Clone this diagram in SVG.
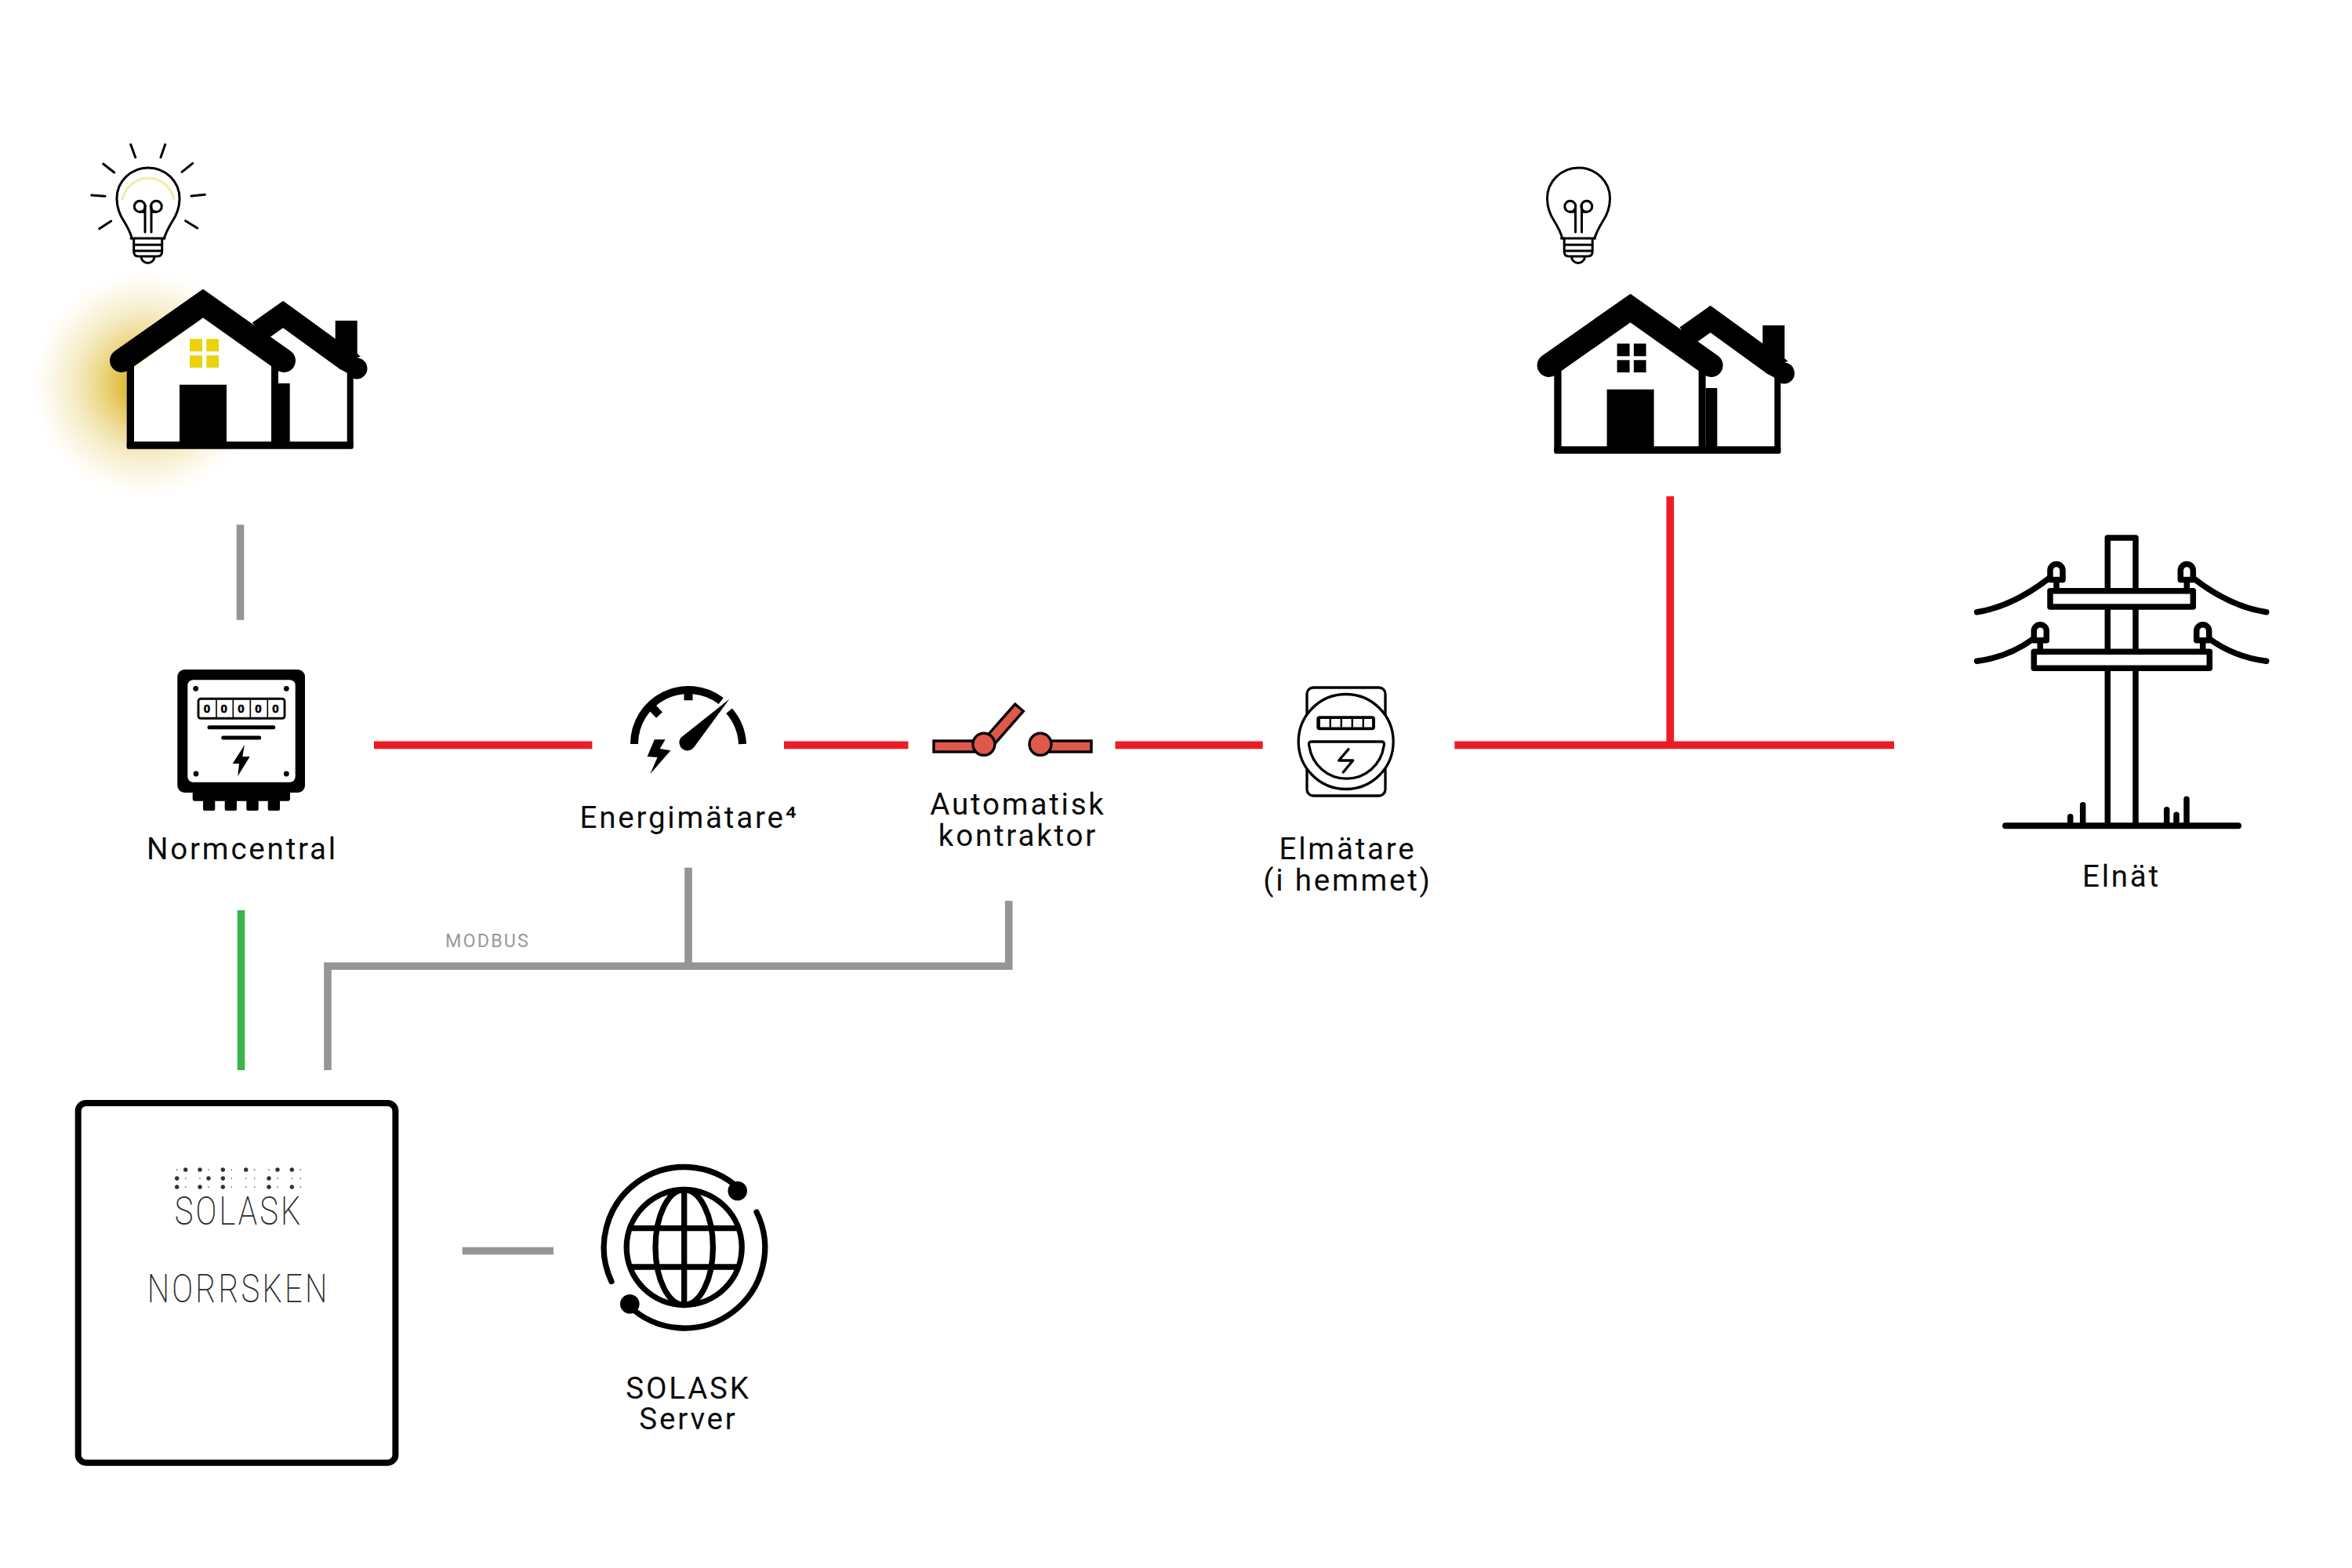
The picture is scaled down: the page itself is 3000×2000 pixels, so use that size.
<svg xmlns="http://www.w3.org/2000/svg" width="3000" height="2000" viewBox="0 0 3000 2000">
<style>
.lbl{font-family:"Roboto","Liberation Sans",sans-serif;font-size:38.5px;letter-spacing:2.8px;fill:#0b0b0b;text-anchor:middle}
.mod{font-family:"Roboto","Liberation Sans",sans-serif;font-size:23.4px;letter-spacing:2.1px;fill:#999;text-anchor:start}
.logo{font-family:"Roboto","Liberation Sans",sans-serif;font-weight:200;font-size:50px;fill:#2a2a2a}
.dig{font-family:"Liberation Sans",sans-serif;font-weight:700;font-size:15px;fill:#000;stroke:#000;stroke-width:.6;text-anchor:middle}
.red{fill:none;stroke:#ED1C24;stroke-width:9.7}
.gray{fill:none;stroke:#959595;stroke-width:9.6}
.k3{fill:none;stroke:#000;stroke-width:3;stroke-linecap:round;stroke-linejoin:round}
.k7{fill:none;stroke:#000;stroke-width:7.5;stroke-linecap:round;stroke-linejoin:round}
.wht{fill:#fff}
.blk{fill:#000}
.sw{fill:#E0584C;stroke:#000;stroke-width:3.4}
.sm{fill:#333}
</style>
<defs>
<radialGradient id="glowG">
<stop offset="0" stop-color="#DDB526" stop-opacity="0.95"/>
<stop offset="0.2" stop-color="#DDB526" stop-opacity="0.88"/>
<stop offset="0.55" stop-color="#E3C452" stop-opacity="0.44"/>
<stop offset="1" stop-color="#F0E0A0" stop-opacity="0"/>
</radialGradient>
<g id="house-shape">
<path class="wht" d="M346,430L360.7,419L442,476V564H350Z"/>
<path fill="none" stroke="#000" stroke-width="28" d="M330,423L361,401L441,459"/>
<circle class="blk" cx="455" cy="470" r="13.5"/>
<path class="blk" d="M430,440L441,459L460,455L455.7,451V409H427.7V442Z"/>
<path class="blk" d="M441,446L463,461L455,482L432,470Z"/>
<rect class="blk" x="442.7" y="470" width="8" height="100"/>
<path class="wht" d="M171,468L259.3,406L346,468V563.3H171Z"/>
<rect class="blk" x="161.7" y="563.3" width="289" height="9.4" rx="2"/>
<rect class="blk" x="161.7" y="455" width="9.3" height="115"/>
<rect class="blk" x="346" y="460" width="9" height="110"/>
<rect class="blk" x="355" y="489" width="14.7" height="80"/>
<rect class="blk" x="229" y="490.7" width="60" height="78"/>
<path fill="none" stroke="#000" stroke-width="30" stroke-linecap="round" stroke-miterlimit="6" d="M155,460L259,387L362,460"/>
</g>
<g id="bulb-shape">
<path class="k3" d="M168.3,304C166,296 163,290 158,282C152,273 149,265 149,253A40,39 0 0 1 229,253C229,265 226,273 220,282C215,290 212,296 209.3,304"/>
<path class="k3" d="M167,304H210M170.7,304V321Q170.7,327 177,327H200Q206.7,327 206.7,321V304M170.7,312.3H206.7M170.7,320H206.7M180,327A8.5,8.5 0 0 0 197,327"/>
<circle class="k3" cx="178.3" cy="263.3" r="7"/>
<circle class="k3" cx="199.3" cy="263.3" r="7"/>
<path class="k3" d="M185,262V296M193,262V296M178,270.3H185M193,270.3H199"/>
</g>
<path id="insulator" class="k7" d="M-8,20V8A8,8 0 0 1 8,8V20ZM0,20V34"/>
</defs>
<rect width="3000" height="2000" fill="#fff"/>

<g id="connectors">
<path class="gray" d="M306.5,669.3V790.7"/>
<path class="red" d="M477,950.4H755.4"/>
<path class="red" d="M1000,950.4H1158.5"/>
<path class="red" d="M1422.5,950.4H1610.7"/>
<path class="red" d="M1855.3,950.4H2416"/>
<path class="red" d="M2130.3,633V950.4"/>
<path d="M307.5,1161V1365" fill="none" stroke="#39B54A" stroke-width="9.5"/>
<path class="gray" d="M418,1365V1232.3H1286.7V1149"/>
<path class="gray" d="M878,1106.7V1232.3"/>
<path class="gray" d="M589.7,1595.5H706"/>
<text class="mod" x="568" y="1208" id="modbus-label">MODBUS</text>
</g>

<g id="house-lit">
<circle cx="185" cy="490" r="145" fill="url(#glowG)"/>
<use href="#house-shape"/>
<g fill="#EAD30B">
<rect x="242" y="432.3" width="16" height="16"/>
<rect x="263.3" y="432.3" width="15.7" height="16"/>
<rect x="242" y="453.3" width="16" height="15.7"/>
<rect x="263.3" y="453.3" width="15.7" height="15.7"/>
</g>
</g>

<g id="bulb-lit">
<path d="M156,255A33.5,33.5 0 0 1 222,255" fill="none" stroke="#F7EBB5" stroke-width="3.5"/>
<use href="#bulb-shape"/>
<path class="k3" d="M166.7,184.3L172.7,200.7M210.7,184.3L205,200.7M131.7,209L145.7,220M245.7,208.3L232,219.3M116.7,249L134,250.3M261.3,248.3L244,250M126.7,291.7L141.7,282M251.7,291L236.7,281.7"/>
</g>

<g id="bulb-off"><use href="#bulb-shape" x="1824.5"/></g>

<g id="house-off">
<use href="#house-shape" x="1820.6" y="6"/>
<g fill="#000" transform="translate(1820.6 6)">
<rect x="242" y="432.3" width="16" height="16"/>
<rect x="263.3" y="432.3" width="15.7" height="16"/>
<rect x="242" y="453.3" width="16" height="15.7"/>
<rect x="263.3" y="453.3" width="15.7" height="15.7"/>
</g>
</g>

<g id="normcentral">
<rect class="blk" x="226.3" y="854" width="162.7" height="157" rx="9"/>
<rect class="blk" x="245.7" y="1000" width="124.3" height="21.7" rx="3"/>
<rect class="blk" x="259" y="1015" width="15.3" height="19" rx="2"/>
<rect class="blk" x="286.7" y="1015" width="15.3" height="19" rx="2"/>
<rect class="blk" x="314.3" y="1015" width="15.4" height="19" rx="2"/>
<rect class="blk" x="341.7" y="1015" width="15.3" height="19" rx="2"/>
<rect class="wht" x="239.3" y="867.3" width="137.4" height="130.4" rx="7"/>
<circle class="blk" cx="249.7" cy="878.3" r="3.4"/>
<circle class="blk" cx="365.3" cy="878.3" r="3.4"/>
<circle class="blk" cx="250" cy="987" r="3.4"/>
<circle class="blk" cx="365.3" cy="987" r="3.4"/>
<rect x="253" y="891.3" width="110" height="25" rx="3" fill="none" stroke="#000" stroke-width="2.9"/>
<path d="M276,891V917M297.3,891V917M319.3,891V917M341.3,891V917" fill="none" stroke="#000" stroke-width="1.6"/>
<text class="dig" x="264" y="909">0</text>
<text class="dig" x="285.7" y="909">0</text>
<text class="dig" x="307.3" y="909">0</text>
<text class="dig" x="329.3" y="909">0</text>
<text class="dig" x="351.3" y="909">0</text>
<path d="M267,927.7H348.7M284.7,941H330.7" fill="none" stroke="#000" stroke-width="5" stroke-linecap="round"/>
<path class="blk" d="M312,950L296.7,974H305L303.3,990L318.7,965H309.3Z"/>
<text class="lbl" x="309" y="1095.5">Normcentral</text>
</g>

<g id="energimatare">
<path d="M809,949A69,69 0 0 1 919.7,894" fill="none" stroke="#000" stroke-width="10"/>
<path d="M930,906.7A69,69 0 0 1 947,949" fill="none" stroke="#000" stroke-width="10"/>
<path d="M878,880V893.3M830,900.5L841,912" fill="none" stroke="#000" stroke-width="11"/>
<path class="blk" d="M930.3,891.7L868.3,941A8,8 0 0 0 885.3,953Z"/>
<path class="blk" d="M834.8,943.3H848.6L841.7,955L855.4,957.3L829.3,987.3L838.5,966L825.6,965Z"/>
<text class="lbl" x="879" y="1056">Energimätare⁴</text>
</g>

<g id="kontraktor">
<rect class="sw" x="1191" y="945" width="52" height="14"/>
<path class="sw" d="M1299.4,902L1309,912L1268,950L1258,940Z" transform="rotate(-6 1260 945)"/>
<circle class="sw" cx="1254.9" cy="949.3" r="14"/>
<rect class="sw" x="1338" y="945" width="54" height="14"/>
<circle class="sw" cx="1327" cy="949.3" r="14"/>
<text class="lbl" x="1298.5" y="1039">Automatisk</text>
<text class="lbl" x="1298.5" y="1079">kontraktor</text>
</g>

<g id="elmatare">
<rect class="k3" x="1667" y="877" width="100" height="138" rx="8" style="stroke-width:3.3"/>
<circle cx="1716.7" cy="946" r="60.5" fill="#fff" stroke="#000" stroke-width="3.3"/>
<rect class="blk" x="1679.3" y="913.3" width="74.7" height="18" rx="4"/>
<g class="wht">
<rect x="1684" y="917" width="11.6" height="10.5"/>
<rect x="1698" y="917" width="11.6" height="10.5"/>
<rect x="1712" y="917" width="11.6" height="10.5"/>
<rect x="1726" y="917" width="11.6" height="10.5"/>
<rect x="1740" y="917" width="10" height="10.5"/>
</g>
<path d="M1673,946H1762Q1767,946 1765,952A48,48 0 0 1 1670,952Q1668,946 1673,946Z" fill="none" stroke="#000" stroke-width="3.3"/>
<path d="M1720,955.7L1707.7,970H1725.7L1713.3,985" fill="none" stroke="#000" stroke-width="3.3" stroke-linecap="round" stroke-linejoin="round"/>
<text class="lbl" x="1719" y="1096">Elmätare</text>
<text class="lbl" x="1719" y="1135.5">(i hemmet)</text>
</g>

<g id="elnat">
<path class="k7" d="M2688.3,1053V686H2724V1053"/>
<rect x="2615" y="753.7" width="182.3" height="20.3" fill="#fff" stroke="#000" stroke-width="7.5" stroke-linejoin="round"/>
<rect x="2594.3" y="831.3" width="224" height="21" fill="#fff" stroke="#000" stroke-width="7.5" stroke-linejoin="round"/>
<use href="#insulator" x="2623" y="719.5"/>
<use href="#insulator" x="2789.3" y="719.5"/>
<use href="#insulator" x="2602.3" y="796.8"/>
<use href="#insulator" x="2809.7" y="796.8"/>
<path class="k7" d="M2613,738Q2566,774 2521.7,780.7M2798.3,738Q2845,774 2890.7,780.7M2593.3,815Q2562,838 2521.7,843.3M2818.3,815Q2850,838 2890.7,843.3"/>
<path class="k7" d="M2640.7,1053V1041.7M2656.7,1053V1026.7M2763.7,1053V1032.7M2776,1053V1039.3M2789,1053V1019.3"/>
<path d="M2558,1053.3H2855" fill="none" stroke="#000" stroke-width="8" stroke-linecap="round"/>
<text class="lbl" x="2706" y="1130.5">Elnät</text>
</g>

<g id="norrsken">
<rect x="99.7" y="1407" width="404.7" height="458.7" rx="10" fill="#fff" stroke="#000" stroke-width="8"/>
<g class="sm">
<circle cx="236.7" cy="1492" r="2.7"/><circle cx="255" cy="1492" r="2.7"/><circle cx="284.3" cy="1492" r="2.7"/><circle cx="313.7" cy="1492" r="2.7"/><circle cx="354" cy="1492" r="2.7"/><circle cx="372.3" cy="1492" r="2.7"/>
<circle cx="225.7" cy="1503" r="2.7"/><circle cx="266" cy="1503" r="2.7"/><circle cx="284.3" cy="1503" r="2.7"/><circle cx="343" cy="1503" r="2.7"/>
<circle cx="225.7" cy="1514" r="2.7"/><circle cx="255" cy="1514" r="2.7"/><circle cx="284.3" cy="1514" r="2.7"/><circle cx="343" cy="1514" r="2.7"/><circle cx="372.3" cy="1514" r="2.7"/>
<circle cx="225.7" cy="1492" r=".8"/><circle cx="266" cy="1492" r=".8"/><circle cx="295.3" cy="1492" r=".8"/><circle cx="324.7" cy="1492" r=".8"/><circle cx="343" cy="1492" r=".8"/><circle cx="383.3" cy="1492" r=".8"/>
<circle cx="236.7" cy="1503" r=".8"/><circle cx="255" cy="1503" r=".8"/><circle cx="295.3" cy="1503" r=".8"/><circle cx="313.7" cy="1503" r=".8"/><circle cx="324.7" cy="1503" r=".8"/><circle cx="354" cy="1503" r=".8"/><circle cx="372.3" cy="1503" r=".8"/><circle cx="383.3" cy="1503" r=".8"/>
<circle cx="236.7" cy="1514" r=".8"/><circle cx="266" cy="1514" r=".8"/><circle cx="295.3" cy="1514" r=".8"/><circle cx="313.7" cy="1514" r=".8"/><circle cx="324.7" cy="1514" r=".8"/><circle cx="354" cy="1514" r=".8"/><circle cx="383.3" cy="1514" r=".8"/>
</g>
<text class="logo" transform="translate(222.7 1561.5) scale(.8 1)" textLength="200.75" lengthAdjust="spacing">SOLASK</text>
<text class="logo" transform="translate(187.7 1660.5) scale(.8 1)" textLength="287" lengthAdjust="spacing">NORRSKEN</text>
</g>

<g id="server">
<g fill="none" stroke="#000" stroke-width="7.3">
<circle cx="872.7" cy="1591" r="73.5"/>
<ellipse cx="872.7" cy="1591" rx="36.7" ry="73.5"/>
<path d="M872.7,1517.5V1664.5M804,1566.7H941.5M804,1616H941.5"/>
<path stroke-linecap="round" d="M779.9,1634.5A102.5,102.5 0 0 1 943.1,1516.5"/>
<path stroke-linecap="round" d="M965,1546A102.5,102.5 0 0 1 801.7,1665"/>
</g>
<circle class="blk" cx="940.7" cy="1519" r="12.3"/>
<circle class="blk" cx="803.3" cy="1663.3" r="12.3"/>
<text class="lbl" x="878" y="1783.5">SOLASK</text>
<text class="lbl" x="878" y="1822.5">Server</text>
</g>
</svg>
